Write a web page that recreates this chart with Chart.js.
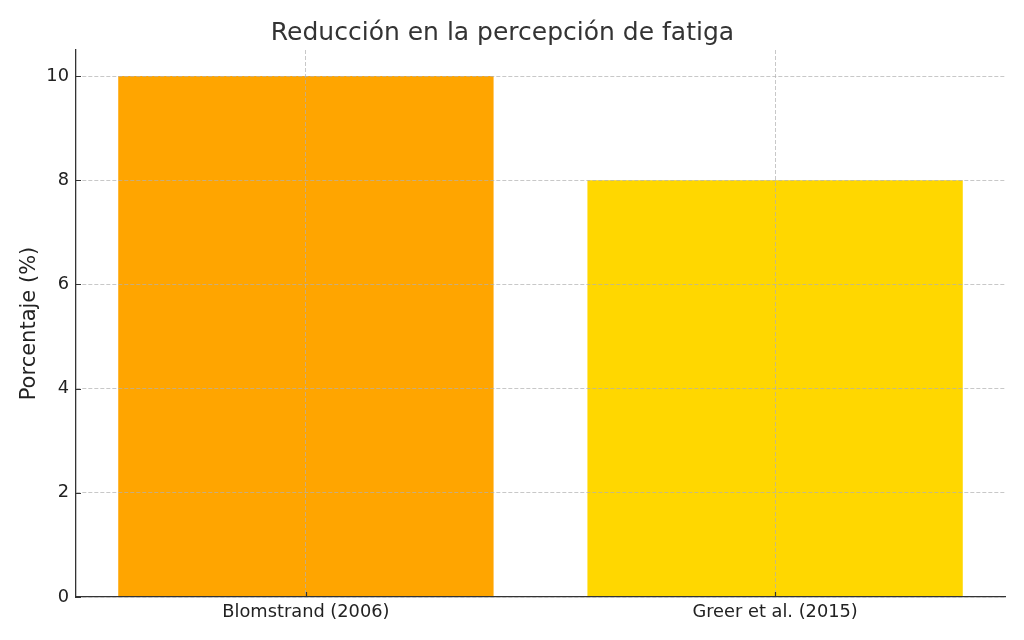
<!DOCTYPE html>
<html>
<head>
<meta charset="utf-8">
<title>Reducción en la percepción de fatiga</title>
<script src="https://cdn.jsdelivr.net/npm/chart.js@4.4.1/dist/chart.umd.min.js"></script>
<style>
  html, body { margin: 0; padding: 0; background: #fff; }
  canvas { display: block; }
</style>
</head>
<body>
<canvas id="fatigueChart" width="1024" height="640"></canvas>
<script>
// Data
const studies = ["Blomstrand (2006)", "Greer et al. (2015)"];
const reduction = [10, 8];
const barColors = ["#FFA500", "#FFD700"];
const yTicks = [0, 2, 4, 6, 8, 10];

const FONT = "'DejaVu Sans', 'Liberation Sans', sans-serif";
const GRID = "rgba(176,176,176,0.7)";

// matplotlib style: small tick marks pointing into the plot area
const inwardTicks = {
  id: "inwardTicks",
  afterDraw(chart) {
    const { ctx, chartArea, scales } = chart;
    ctx.save();
    ctx.strokeStyle = "#333";
    ctx.lineWidth = 1.2;
    ctx.beginPath();
    scales.x.ticks.forEach((t) => {
      const px = Math.round(scales.x.getPixelForValue(t.value)) + 0.5;
      ctx.moveTo(px, chartArea.bottom);
      ctx.lineTo(px, chartArea.bottom - 5);
    });
    scales.y.ticks.forEach((t) => {
      const py = Math.round(scales.y.getPixelForValue(t.value)) + 0.5;
      ctx.moveTo(chartArea.left, py);
      ctx.lineTo(chartArea.left + 5, py);
    });
    ctx.stroke();
    ctx.restore();
  },
};

const ctx = document.getElementById("fatigueChart").getContext("2d");
new Chart(ctx, {
  type: "bar",
  data: {
    datasets: [
      {
        data: studies.map((s, i) => ({ x: i, y: reduction[i] })),
        backgroundColor: barColors,
        borderWidth: 0,
        categoryPercentage: 1,
        barPercentage: 0.8,
      },
    ],
  },
  options: {
    responsive: false,
    animation: false,
    devicePixelRatio: 1,
    layout: { padding: { left: 0, right: 19, top: 0, bottom: 0 } },
    plugins: {
      legend: { display: false },
      tooltip: { enabled: false },
      title: {
        display: true,
        text: "Reducción en la percepción de fatiga",
        color: "#333",
        font: { family: FONT, size: 25, weight: "normal" },
        padding: { top: 18, bottom: 2 },
      },
    },
    scales: {
      x: {
        type: "linear",
        min: -0.49,
        max: 1.49,
        offset: false,
        afterBuildTicks: (scale) => {
          scale.ticks = studies.map((s, i) => ({ value: i }));
        },
        afterFit: (scale) => { scale.height = 43; },
        ticks: {
          color: "#222",
          font: { family: FONT, size: 17.8 },
          padding: 5,
          maxRotation: 0,
          callback: (v) => studies[v],
        },
        grid: {
          z: 1,
          offset: false,
          drawTicks: false,
          color: GRID,
          lineWidth: 1,
        },
        border: { z: 1, display: true, color: "#333", width: 1.3, dash: [4, 2] },
      },
      y: {
        min: 0,
        max: 10.5,
        afterBuildTicks: (scale) => {
          scale.ticks = yTicks.map((v) => ({ value: v }));
        },
        afterFit: (scale) => { scale.width = 76; },
        ticks: {
          color: "#222",
          font: { family: FONT, size: 17.8 },
          padding: 7,
        },
        grid: {
          z: 1,
          drawTicks: false,
          color: GRID,
          lineWidth: 1,
        },
        border: { z: 1, display: true, color: "#333", width: 1.3, dash: [4, 2] },
        title: {
          display: true,
          text: "Porcentaje (%)",
          color: "#222",
          font: { family: FONT, size: 21 },
          padding: { top: 16.5, bottom: 0 },
        },
      },
    },
  },
  plugins: [inwardTicks],
});
</script>
</body>
</html>
